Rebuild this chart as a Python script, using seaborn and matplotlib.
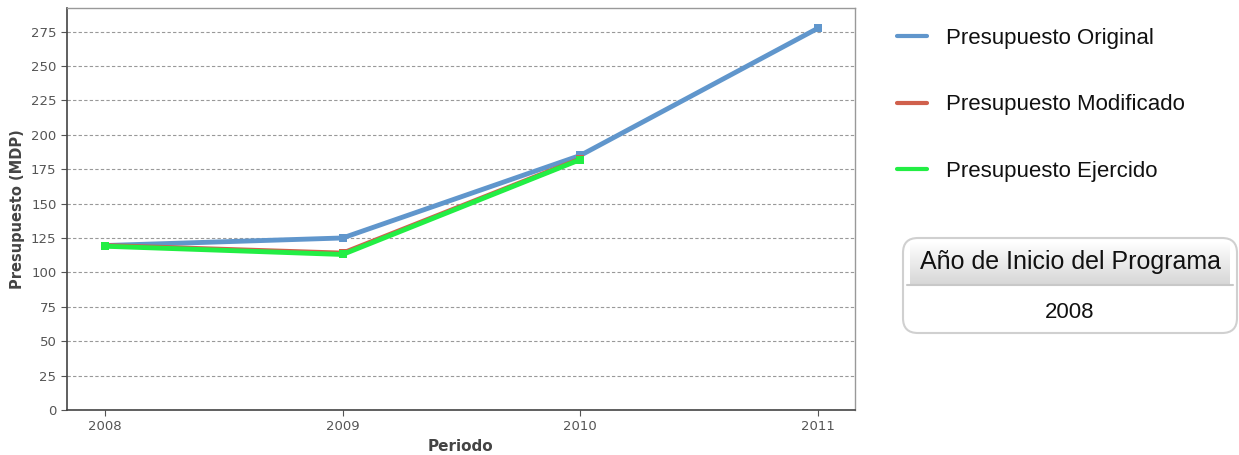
import matplotlib
matplotlib.use("Agg")
import matplotlib.pyplot as plt
from matplotlib.patches import FancyBboxPatch
import numpy as np
import pandas as pd
import seaborn as sns

# datos
periodos = [2008, 2009, 2010, 2011]
original = [119.5, 125.0, 185.0, 277.5]
modificado = [119.5, 114.0, 182.5]
ejercido = [119.0, 113.0, 182.0]
series = ["Presupuesto Original", "Presupuesto Modificado", "Presupuesto Ejercido"]
colores = ["#6096cc", "#d0604c", "#22ee44"]
anio_inicio = "2008"

rows = []
for nombre, vals in zip(series, [original, modificado, ejercido]):
    for p, v in zip(periodos, vals):
        rows.append({"Periodo": p, "valor": v, "serie": nombre})
df = pd.DataFrame(rows)

sns.set_style("white")
plt.rcParams["font.family"] = ["DejaVu Sans"]

fig = plt.figure(figsize=(12.39, 4.55), dpi=100)
ax = fig.add_axes([0.054, 0.099, 0.636, 0.883])

sns.lineplot(data=df, x="Periodo", y="valor", hue="serie", palette=colores,
             marker="s", markersize=6, markeredgewidth=0, linewidth=3.5,
             ax=ax, legend=False)
ax.lines[2].set_zorder(3)

ax.set_xlim(2007.84, 2011.155)
ax.set_ylim(0, 292)
ax.set_yticks(np.arange(0, 276, 25))
ax.set_xticks(periodos)
ax.yaxis.grid(True, linestyle=(0, (3, 2)), color="#999999", linewidth=0.8)
ax.set_axisbelow(True)
ax.tick_params(axis="both", labelsize=9.5, colors="#555555", length=4, direction="out",
               left=True, bottom=True, width=0.8)
for lab in ax.get_xticklabels() + ax.get_yticklabels():
    lab.set_color("#555555")
ax.set_xlabel("Periodo", fontsize=11, color="#444444", fontweight="bold")
ax.set_ylabel("Presupuesto (MDP)", fontsize=10.5, color="#444444", fontweight="bold")
for s in ["left", "bottom"]:
    ax.spines[s].set_color("#444444")
    ax.spines[s].set_linewidth(1.2)
for s in ["top", "right"]:
    ax.spines[s].set_color("#999999")
    ax.spines[s].set_linewidth(1)

handles = [plt.Line2D([], [], color=c, linewidth=3) for c in colores]
leg = fig.legend(handles, series, loc="upper left", bbox_to_anchor=(0.724, 0.939),
                 frameon=False, handlelength=1.35, handletextpad=0.85,
                 labelspacing=2.05, borderpad=0, borderaxespad=0,
                 prop={"family": "Liberation Sans", "size": 16})
for t in leg.get_texts():
    t.set_color("#111111")

# cuadro del anio de inicio
x0, y0, w, h = 903 / 1239, 1 - 333 / 455, 334 / 1239, 95 / 455
box = FancyBboxPatch((x0, y0), w, h, boxstyle="round,pad=0,rounding_size=0.012",
                     transform=fig.transFigure, facecolor="white",
                     edgecolor="#d0d0d0", linewidth=1.5, mutation_aspect=1239 / 455,
                     zorder=-1)
fig.patches.append(box)
head_h = 47 / 455
grad = np.linspace(1.0, 0.84, 50).reshape(-1, 1)
hax = fig.add_axes([x0 + 0.006, y0 + h - head_h, w - 0.012, head_h - 0.008], zorder=1)
hax.imshow(np.dstack([grad, grad, grad]), aspect="auto", extent=[0, 1, 0, 1])
hax.axis("off")
fig.add_artist(plt.Line2D([x0 + 0.003, x0 + w - 0.003], [y0 + h - head_h] * 2,
                          transform=fig.transFigure, color="#c8c8c8", linewidth=1.5))
fig.text(x0 + w / 2, 1 - 262 / 455, "Año de Inicio del Programa", ha="center", va="center",
         fontsize=18, family="Liberation Sans", color="#111111", zorder=5)
fig.text(x0 + w / 2, 1 - 313 / 455, anio_inicio, ha="center", va="center",
         fontsize=16, family="Liberation Sans", color="#111111")

fig.savefig("out.png", dpi=100)
